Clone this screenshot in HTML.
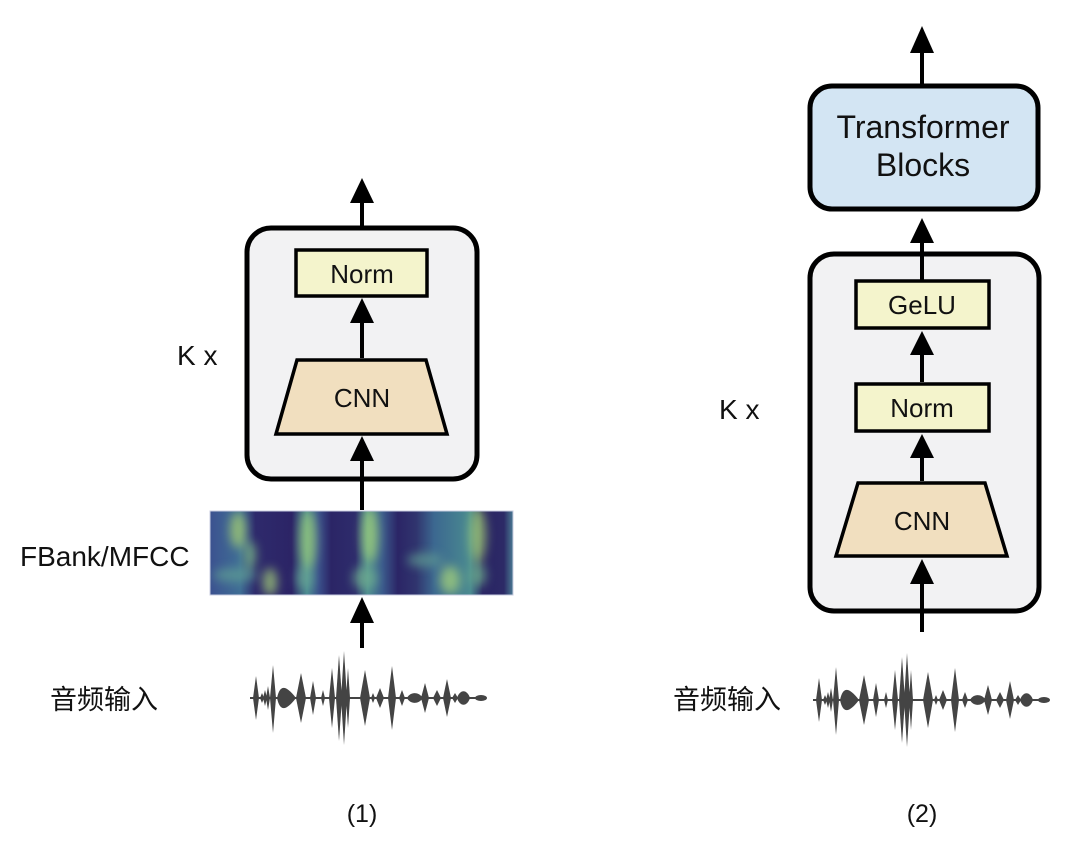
<!DOCTYPE html>
<html><head><meta charset="utf-8"><style>
html,body{margin:0;padding:0;background:#fff;}
svg{display:block;}
text{font-family:"Liberation Sans","Noto Sans CJK SC",sans-serif;fill:#111;}
</style></head><body>
<svg width="1080" height="865" viewBox="0 0 1080 865" xmlns="http://www.w3.org/2000/svg">
<defs>
<linearGradient id="sg" x1="0" x2="1" y1="0" y2="0">
<stop offset="0" stop-color="#3c5290"/>
<stop offset="0.1" stop-color="#3f6e95"/>
<stop offset="0.15" stop-color="#2e2a6c"/>
<stop offset="0.27" stop-color="#2c2466"/>
<stop offset="0.32" stop-color="#4a8a92"/>
<stop offset="0.36" stop-color="#3a4f8a"/>
<stop offset="0.4" stop-color="#2b2566"/>
<stop offset="0.48" stop-color="#2e2c6c"/>
<stop offset="0.52" stop-color="#4c8c90"/>
<stop offset="0.57" stop-color="#3b5a8c"/>
<stop offset="0.62" stop-color="#2b2566"/>
<stop offset="0.68" stop-color="#30346e"/>
<stop offset="0.74" stop-color="#3c6890"/>
<stop offset="0.86" stop-color="#4a8a90"/>
<stop offset="0.9" stop-color="#2a2464"/>
<stop offset="0.97" stop-color="#2c2a66"/>
<stop offset="1" stop-color="#4a7a92"/>
</linearGradient>
<filter id="bl" x="-50%" y="-50%" width="200%" height="200%"><feGaussianBlur stdDeviation="5"/></filter>
<clipPath id="sc"><rect x="210" y="511" width="303" height="84"/></clipPath>
<g id="wave" fill="#444">
<rect x="250" y="697" width="235" height="2"/>
<path d="M253,698 L256,676 L259,698 L256,720Z"/>
<path d="M260,698 L262,693 L264,698 L262,703Z"/>
<path d="M263,698 L265,690 L267,698 L265,706Z"/>
<path d="M266,698 L268,686 L270,698 L268,710Z"/>
<path d="M270,698 L273,665 L276,698 L273,733Z"/>
<path d="M277,698 C280,684 286,685 296,698 C286,711 280,712 277,698Z"/>
<path d="M296,698 L301,673 L306,698 L301,723Z"/>
<path d="M310,698 L313,681 L316,698 L313,715Z"/>
<path d="M321,698 L323,690 L325,698 L323,706Z"/>
<path d="M329,698 L332,668 L335,698 L332,728Z"/>
<path d="M336,698 L339,655 L342,698 L339,741Z"/>
<path d="M341,698 L344,651 L347,698 L344,745Z"/>
<path d="M346,698 L348,668 L350,698 L348,728Z"/>
<path d="M360,698 L365,670 L370,698 L365,726Z"/>
<path d="M371,698 L373,693 L375,698 L373,703Z"/>
<path d="M376,698 L380,688 L384,698 L380,708Z"/>
<path d="M388,698 L392,666 L396,698 L392,730Z"/>
<path d="M399,698 L402,690 L405,698 L402,706Z"/>
<path d="M407,698 C410,692 418,691 423,698 C418,705 410,704 407,698Z"/>
<path d="M421,698 L425,683 L429,698 L425,713Z"/>
<path d="M433,698 L437,690 L441,698 L437,706Z"/>
<path d="M443,698 L447,679 L451,698 L447,717Z"/>
<path d="M452,698 L455,693 L458,698 L455,703Z"/>
<path d="M457,698 C460,689 467,689 470,698 C467,707 460,707 457,698Z"/>
<ellipse cx="481" cy="698" rx="6" ry="3"/>
</g>
</defs>

<!-- LEFT -->
<rect x="247" y="228" width="230" height="251" rx="24" fill="#f2f2f3" stroke="#000" stroke-width="5"/>
<rect x="296" y="250" width="131" height="46" fill="#f4f4cc" stroke="#000" stroke-width="3.5"/>
<text x="362" y="283" font-size="26" text-anchor="middle">Norm</text>
<polygon points="297,360 426,360 447,434 276,434" fill="#f1dfbf" stroke="#000" stroke-width="3.5"/>
<text x="362" y="407" font-size="26" text-anchor="middle">CNN</text>
<text x="177" y="365" font-size="28">K x</text>

<g stroke="#000" stroke-width="4">
<line x1="362" y1="228" x2="362" y2="196"/>
<line x1="362" y1="358" x2="362" y2="318"/>
<line x1="362" y1="510" x2="362" y2="456"/>
<line x1="362" y1="648" x2="362" y2="620"/>
</g>
<g fill="#000">
<polygon points="362,178 374,203 350,203"/>
<polygon points="362,298 374,323 350,323"/>
<polygon points="362,436 374,461 350,461"/>
<polygon points="362,597 374,623 350,623"/>
</g>

<!-- spectrogram -->
<rect x="210" y="511" width="303" height="84" fill="url(#sg)"/>
<g clip-path="url(#sc)" filter="url(#bl)" opacity="0.75">
<ellipse cx="238" cy="530" rx="8" ry="18" fill="#a8d070"/>
<ellipse cx="250" cy="555" rx="6" ry="14" fill="#7fbf85"/>
<ellipse cx="270" cy="582" rx="7" ry="14" fill="#a6d278"/>
<ellipse cx="235" cy="575" rx="22" ry="7" fill="#5e9e94"/>
<ellipse cx="308" cy="540" rx="8" ry="30" fill="#9ecf78"/>
<ellipse cx="305" cy="578" rx="8" ry="12" fill="#6aa894"/>
<ellipse cx="370" cy="535" rx="8" ry="28" fill="#a6d678"/>
<ellipse cx="365" cy="578" rx="12" ry="12" fill="#6fae90"/>
<ellipse cx="450" cy="580" rx="10" ry="14" fill="#a4d27a"/>
<ellipse cx="425" cy="560" rx="18" ry="7" fill="#5e9a92"/>
<ellipse cx="478" cy="535" rx="8" ry="28" fill="#a8d474"/>
<ellipse cx="478" cy="575" rx="8" ry="12" fill="#70b08c"/>
</g>
<rect x="210" y="511" width="303" height="84" fill="none" stroke="#c8cde0" stroke-width="1"/>
<text x="20" y="566" font-size="28">FBank/MFCC</text>

<use href="#wave"/>
<text x="50" y="709" font-size="27">音频输入</text>
<text x="362" y="822" font-size="25" text-anchor="middle">(1)</text>

<!-- RIGHT -->
<rect x="810" y="86" width="228" height="123" rx="22" fill="#d3e5f3" stroke="#000" stroke-width="5"/>
<text x="923" y="138" font-size="32" text-anchor="middle">Transformer</text>
<text x="923" y="176" font-size="32" text-anchor="middle">Blocks</text>

<rect x="810" y="254" width="229" height="357" rx="24" fill="#f2f2f3" stroke="#000" stroke-width="5"/>
<rect x="856" y="281" width="133" height="47" fill="#f4f4cc" stroke="#000" stroke-width="3.5"/>
<text x="922" y="314" font-size="26" text-anchor="middle">GeLU</text>
<rect x="856" y="384" width="133" height="47" fill="#f4f4cc" stroke="#000" stroke-width="3.5"/>
<text x="922" y="417" font-size="26" text-anchor="middle">Norm</text>
<polygon points="858,483 985,483 1007,556 836,556" fill="#f1dfbf" stroke="#000" stroke-width="3.5"/>
<text x="922" y="530" font-size="26" text-anchor="middle">CNN</text>
<text x="719" y="419" font-size="28">K x</text>

<g stroke="#000" stroke-width="4">
<line x1="922" y1="86" x2="922" y2="45"/>
<line x1="922" y1="254" x2="922" y2="238"/>
<line x1="922" y1="281" x2="922" y2="240"/>
<line x1="922" y1="382" x2="922" y2="350"/>
<line x1="922" y1="481" x2="922" y2="453"/>
<line x1="922" y1="632" x2="922" y2="578"/>
</g>
<g fill="#000">
<polygon points="922,26 934,53 910,53"/>
<polygon points="922,218 934,243 910,243"/>
<polygon points="922,331 934,355 910,355"/>
<polygon points="922,434 934,458 910,458"/>
<polygon points="922,559 934,584 910,584"/>
</g>

<use href="#wave" transform="translate(563,2)"/>
<text x="673" y="709" font-size="27">音频输入</text>
<text x="922" y="822" font-size="25" text-anchor="middle">(2)</text>
</svg>
</body></html>
